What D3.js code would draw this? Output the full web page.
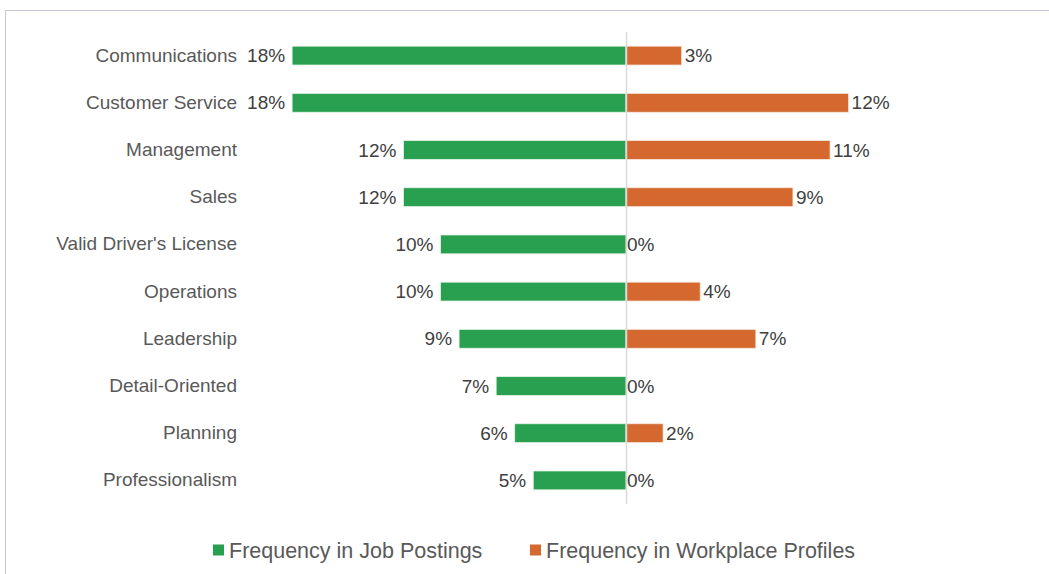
<!DOCTYPE html>
<html>
<head>
<meta charset="utf-8">
<script src="https://cdn.jsdelivr.net/npm/d3@7"></script>
<style>
  html, body { margin: 0; padding: 0; background: #fff; }
  svg { display: block; font-family: "Liberation Sans", Arial, sans-serif; }
</style>
</head>
<body>
<svg id="chart" width="1049" height="574"></svg>
<script>
// Skills compared: share of job postings vs. share of workplace profiles (%)
const categories = [
  "Communications", "Customer Service", "Management", "Sales",
  "Valid Driver's License", "Operations", "Leadership",
  "Detail-Oriented", "Planning", "Professionalism"
];
const jobPostings = [18, 18, 12, 12, 10, 10, 9, 7, 6, 5];
const workplaceProfiles = [3, 12, 11, 9, 0, 4, 7, 0, 2, 0];
const seriesNames = ["Frequency in Job Postings", "Frequency in Workplace Profiles"];
const seriesColors = ["#28A04F", "#D4682F"];

const W = 1049, H = 574;
const svg = d3.select("#chart");

// chart frame (top and left edges)
svg.append("path")
  .attr("d", `M5.5,${H} V10.5 H${W}`)
  .attr("fill", "none")
  .attr("stroke", "#c9c6d6")
  .attr("stroke-width", 1);

const centerX = 626;
const pxPerPct = 18.55;
const xLeft = d3.scaleLinear().domain([0, 18]).range([centerX, centerX - 18 * pxPerPct]);
const xRight = d3.scaleLinear().domain([0, 18]).range([centerX, centerX + 18 * pxPerPct]);

const y = d3.scaleBand().domain(categories).range([32, 504]).paddingInner(0.6).paddingOuter(0.3);

const rows = categories.map((c, i) => ({ c, job: jobPostings[i], prof: workplaceProfiles[i] }));

// job postings bars (extend left of the centre line)
svg.append("g").selectAll("rect").data(rows).join("rect")
  .attr("x", d => xLeft(d.job))
  .attr("y", d => y(d.c))
  .attr("width", d => xLeft(0) - xLeft(d.job))
  .attr("height", y.bandwidth())
  .attr("fill", seriesColors[0])
  .attr("stroke", "#e8f3ea")
  .attr("stroke-width", 0.8);

// workplace profile bars (extend right)
svg.append("g").selectAll("rect").data(rows.filter(d => d.prof > 0)).join("rect")
  .attr("x", d => xRight(0))
  .attr("y", d => y(d.c))
  .attr("width", d => xRight(d.prof) - xRight(0))
  .attr("height", y.bandwidth())
  .attr("fill", seriesColors[1])
  .attr("stroke", "#f6e6dc")
  .attr("stroke-width", 0.8);

// centre axis line
svg.append("line")
  .attr("x1", centerX + 0.5).attr("x2", centerX + 0.5)
  .attr("y1", 32).attr("y2", 504)
  .attr("stroke", "#d9d9d9").attr("stroke-width", 1.5);

// category labels
const yAxis = d3.axisLeft(y).tickSize(0).tickPadding(0);
const axisG = svg.append("g").attr("transform", "translate(237,0)").call(yAxis);
axisG.select(".domain").remove();
axisG.selectAll("text")
  .attr("font-size", 19)
  .attr("fill", "#595959")
  .attr("font-family", "Liberation Sans, Arial, sans-serif");

// value labels
const mid = d => y(d.c) + y.bandwidth() / 2;
svg.append("g").selectAll("text").data(rows).join("text")
  .attr("x", d => xLeft(d.job) - 7)
  .attr("y", mid)
  .attr("dy", "0.35em")
  .attr("text-anchor", "end")
  .attr("font-size", 19)
  .attr("fill", "#404040")
  .text(d => d.job + "%");

svg.append("g").selectAll("text").data(rows).join("text")
  .attr("x", d => xRight(d.prof) + (d.prof > 0 ? 3 : 1))
  .attr("y", mid)
  .attr("dy", "0.35em")
  .attr("text-anchor", "start")
  .attr("font-size", 19)
  .attr("fill", "#404040")
  .text(d => d.prof + "%");

// legend
const legendX = [213, 530];
const legend = svg.append("g").selectAll("g").data(seriesNames).join("g")
  .attr("transform", (d, i) => `translate(${legendX[i]},550)`);
legend.append("rect")
  .attr("x", 0).attr("y", -5.5).attr("width", 11).attr("height", 11)
  .attr("fill", (d, i) => seriesColors[i]);
legend.append("text")
  .attr("x", 16).attr("dy", "0.35em")
  .attr("font-size", 21.5)
  .attr("fill", "#595959")
  .text(d => d);
</script>
</body>
</html>
